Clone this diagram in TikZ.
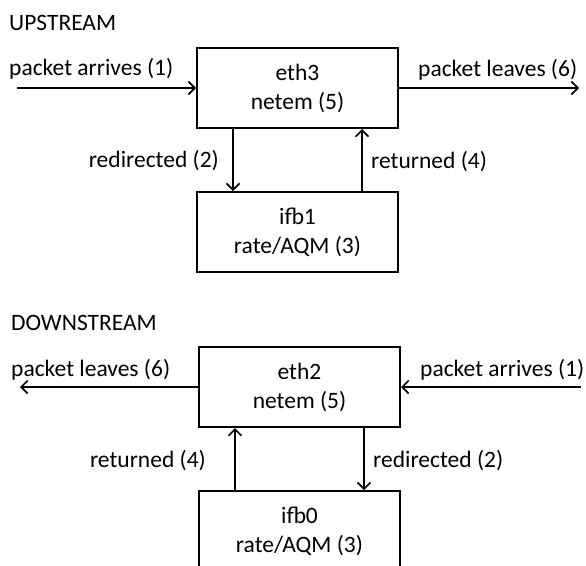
\documentclass[tikz,border=0pt]{standalone}
\usepackage{fontspec}
\setmainfont{Carlito}
\usetikzlibrary{arrows.meta,positioning}

\tikzset{
  ifbox/.style={draw, line width=2pt, minimum width=201pt, minimum height=80pt, align=center, inner sep=0pt},
  flow/.style={-{Straight Barb[length=6.5pt,width=13pt]}, line width=1.6pt},
  lbl/.style={inner sep=0pt},
}

\begin{document}
\begin{tikzpicture}[x=1pt, y=-1pt, font=\fontsize{23.5}{29}\selectfont]
  \useasboundingbox (0,0) rectangle (586,565);
  \clip (0,0) rectangle (586,565);

  % Upstream
  \node[lbl, anchor=west] (uptitle) at (9,23) {UPSTREAM};
  \node[ifbox] (eth3) at (297.5,88) {eth3\\netem (5)};
  \node[ifbox] (ifb1) at (297.5,232) {ifb1\\rate/AQM (3)};
  \coordinate (upin) at (17,88);
  \coordinate (upout) at (579,88);
  \draw[flow] (upin) -- (eth3.west);
  \draw[flow] (eth3.east) -- (upout);
  \draw[flow] ([xshift=-64.5pt]eth3.south) -- ([xshift=-64.5pt]ifb1.north);
  \draw[flow] ([xshift=64.5pt]ifb1.north) -- ([xshift=64.5pt]eth3.south);
  \node[lbl, anchor=west] (uparr) at (9,69) {packet arrives (1)};
  \node[lbl, anchor=west] (uplea) at (418,70) {packet leaves (6)};
  \node[lbl, anchor=east] (upred) at (219,161) {redirected (2)};
  \node[lbl, anchor=west] (upret) at (371,162) {returned (4)};

  % Downstream
  \node[lbl, anchor=west] (dntitle) at (11,323) {DOWNSTREAM};
  \node[ifbox] (eth2) at (299.5,387) {eth2\\netem (5)};
  \node[ifbox] (ifb0) at (299.5,531) {ifb0\\rate/AQM (3)};
  \coordinate (dnin) at (581,387);
  \coordinate (dnout) at (20,387);
  \draw[flow] (dnin) -- (eth2.east);
  \draw[flow] (eth2.west) -- (dnout);
  \draw[flow] ([xshift=64.5pt]eth2.south) -- ([xshift=64.5pt]ifb0.north);
  \draw[flow] ([xshift=-64.5pt]ifb0.north) -- ([xshift=-64.5pt]eth2.south);
  \node[lbl, anchor=west] (dnlea) at (11,370) {packet leaves (6)};
  \node[lbl, anchor=west] (dnarr) at (420,370) {packet arrives (1)};
  \node[lbl, anchor=east] (dnret) at (206,461) {returned (4)};
  \node[lbl, anchor=west] (dnred) at (373,461) {redirected (2)};
\end{tikzpicture}
\end{document}
